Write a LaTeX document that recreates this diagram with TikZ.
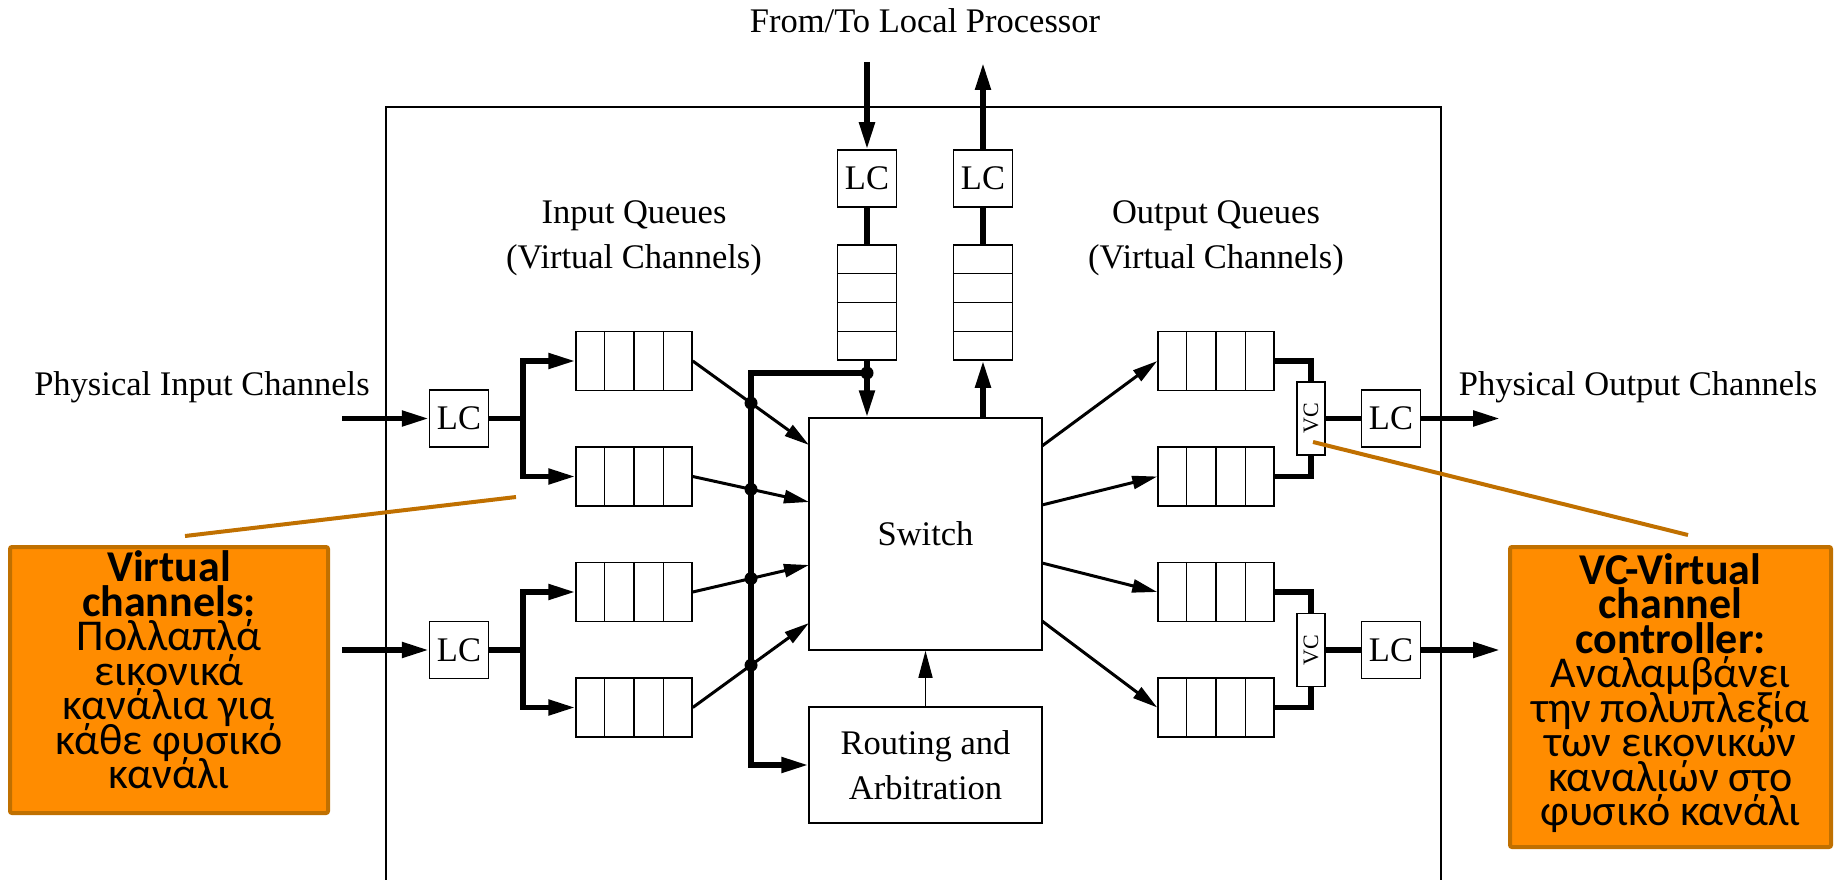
\documentclass[tikz,border=0pt]{standalone}
\usepackage{fontspec}
\setmainfont{Liberation Serif}
\newfontfamily\calfont{Carlito}
\usetikzlibrary{arrows.meta,calc}
\definecolor{calfill}{RGB}{255,140,0}
\definecolor{caledge}{RGB}{192,112,0}
\begin{document}
\begin{tikzpicture}[x=1pt,y=-1pt,
  every node/.style={font=\fontsize{34.5}{45}\selectfont},
  boxed/.style={draw,line width=1.5pt,inner sep=0pt},
  lcbox/.style={boxed,minimum width=59pt,minimum height=57pt},
  hq/.style={boxed,minimum width=116pt,minimum height=59pt},
  vq/.style={boxed,minimum width=59pt,minimum height=115pt},
  vcbox/.style={boxed,minimum width=28pt,minimum height=73pt,font=\fontsize{22}{22}\selectfont},
  heavy/.style={line width=5.2pt},
  medium/.style={line width=3pt},
  thinline/.style={line width=1.5pt},
  harr/.style={-{Triangle[length=27pt,width=15pt]}},
  marr/.style={-{Triangle[length=25pt,width=13pt]}},
  tarr/.style={-{Triangle[length=27pt,width=14pt]}},
  jdot/.style={circle,fill,inner sep=0pt,minimum size=13pt},
  calbox/.style={draw=caledge,fill=calfill,line width=4pt,inner sep=0pt,rounded corners=2pt},
  calltext/.style={font={\calfont\fontsize{44}{34.5}\selectfont\lineskiplimit=-1000pt\lineskip=0pt},align=center,inner sep=0pt},
  leader/.style={draw=caledge,line width=4pt}
]
\useasboundingbox (0,0) rectangle (1837,880);

% outer frame
\coordinate (fbl) at (386,895);
\coordinate (ftl) at (386,107);
\coordinate (ftr) at (1441,107);
\coordinate (fbr) at (1441,895);
\draw[thinline] (fbl) -- (ftl) -- (ftr) -- (fbr);

% texts
\node[anchor=base] (tproc) at (925,33) {From/To Local Processor};
\node[anchor=base] (tiq) at (634,223) {Input Queues};
\node[anchor=base] (tivc) at (634,268) {(Virtual Channels)};
\node[anchor=base] (toq) at (1216,223) {Output Queues};
\node[anchor=base] (tovc) at (1216,268) {(Virtual Channels)};
\node[anchor=base] (tpin) at (202,395) {Physical Input Channels};
\node[anchor=base] (tpout) at (1638,395) {Physical Output Channels};

% input side
\node[lcbox] (lci1) at (459,418.5) {LC};
\node[lcbox] (lci2) at (459,650) {LC};
\node[hq] (iq1) at (634,361) {};
\node[hq] (iq2) at (634,476.5) {};
\node[hq] (iq3) at (634,592) {};
\node[hq] (iq4) at (634,707.5) {};

% local processor side
\node[lcbox] (lcu) at (867,178.5) {LC};
\node[lcbox] (lco) at (983,178.5) {LC};
\node[vq] (lqin) at (867,302.5) {};
\node[vq] (lqout) at (983,302.5) {};

% switch and routing
\node[boxed,minimum width=233pt,minimum height=232pt] (sw) at (925.5,534) {Switch};
\node[boxed,minimum width=233pt,minimum height=116pt,align=center] (ra) at (925.5,765) {Routing and\\Arbitration};

% output side
\node[hq] (oq1) at (1216,361) {};
\node[hq] (oq2) at (1216,476.5) {};
\node[hq] (oq3) at (1216,592) {};
\node[hq] (oq4) at (1216,707.5) {};
\node[vcbox] (vc1) at (1311,418.5) {\rotatebox{90}{VC}};
\node[vcbox] (vc2) at (1311,650) {\rotatebox{90}{VC}};
\node[lcbox] (lcp1) at (1391,418.5) {LC};
\node[lcbox] (lcp2) at (1391,650) {LC};

% queue cell dividers
\foreach \q in {iq1,iq2,iq3,iq4,oq1,oq2,oq3,oq4}
  \foreach \f in {0.25,0.5,0.75}
    \draw[thinline] ($(\q.north west)!\f!(\q.north east)$) -- ($(\q.south west)!\f!(\q.south east)$);
\foreach \q in {lqin,lqout}
  \foreach \f in {0.25,0.5,0.75}
    \draw[thinline] ($(\q.north west)!\f!(\q.south west)$) -- ($(\q.north east)!\f!(\q.south east)$);

% physical inputs
\coordinate (pin1) at (342,418.5);
\coordinate (pin2) at (342,650);
\coordinate (br1) at (523,418.5);
\coordinate (br2) at (523,650);
\draw[heavy,harr] (pin1) -- (lci1.west);
\draw[heavy,harr] (pin2) -- (lci2.west);
\draw[heavy] (lci1.east) -- (br1);
\draw[heavy] (lci2.east) -- (br2);
\draw[heavy,harr] (br1) |- (iq1.west);
\draw[heavy,harr] (br1) |- (iq2.west);
\draw[heavy,harr] (br2) |- (iq3.west);
\draw[heavy,harr] (br2) |- (iq4.west);

% local processor connections
\coordinate (procin) at (867,62);
\coordinate (procout) at (983,63);
\node[jdot] (dtop) at (867,373) {};
\coordinate (bt) at (751,373);
\coordinate (bb) at (751,790);
\draw[heavy,harr] (procin) -- (lcu.north);
\draw[heavy] (lcu.south) -- (lqin.north);
\draw[heavy] (lqin.south) -- (dtop.center);
\draw[heavy,harr] (dtop.center) -- (sw.north -| dtop);
\draw[heavy,harr] (lco.north) -- (procout);
\draw[heavy] (lqout.north) -- (lco.south);
\draw[heavy,harr] (sw.north -| lqout) -- (lqout.south);

% bus to routing
\draw[heavy,harr] (dtop.center) -- (bt) |- (ra.west);

% queues to switch
\coordinate (si1) at (809,445);
\coordinate (si2) at (809,502);
\coordinate (si3) at (809,565);
\coordinate (si4) at (809,623);
\draw[medium,marr] (iq1.east) -- (si1);
\draw[medium,marr] (iq2.east) -- (si2);
\draw[medium,marr] (iq3.east) -- (si3);
\draw[medium,marr] (iq4.east) -- (si4);
\node[jdot] (d1) at (intersection of iq1.east--si1 and bt--bb) {};
\node[jdot] (d2) at (intersection of iq2.east--si2 and bt--bb) {};
\node[jdot] (d3) at (intersection of iq3.east--si3 and bt--bb) {};
\node[jdot] (d4) at (intersection of iq4.east--si4 and bt--bb) {};

% routing to switch
\draw[thinline,tarr] (ra.north) -- (sw.south);

% switch to output queues
\coordinate (so1) at (1042,446);
\coordinate (so2) at (1042,505);
\coordinate (so3) at (1042,563);
\coordinate (so4) at (1042,621);
\draw[medium,marr] (so1) -- (oq1.west);
\draw[medium,marr] (so2) -- (oq2.west);
\draw[medium,marr] (so3) -- (oq3.west);
\draw[medium,marr] (so4) -- (oq4.west);

% output queues to VC and LC
\draw[heavy] (oq1.east) -| (vc1.north);
\draw[heavy] (oq2.east) -| (vc1.south);
\draw[heavy] (oq3.east) -| (vc2.north);
\draw[heavy] (oq4.east) -| (vc2.south);
\draw[heavy] (vc1.east) -- (lcp1.west);
\draw[heavy] (vc2.east) -- (lcp2.west);
\coordinate (pout1) at (1500,418.5);
\coordinate (pout2) at (1500,650);
\draw[heavy,harr] (lcp1.east) -- (pout1);
\draw[heavy,harr] (lcp2.east) -- (pout2);

% callouts
\node[calbox,minimum width=318pt,minimum height=266pt] (cl) at (169,680) {};
\node[calltext] (clt) at (169,670) {\textbf{Virtual}\\\textbf{channels:}\\Πολλαπλά\\εικονικά\\κανάλια για\\κάθε φυσικό\\κανάλι};
\node[calbox,minimum width=321pt,minimum height=300pt] (cr) at (1670.5,697) {};
\node[calltext] (crt) at (1670.5,693) {\textbf{VC-Virtual}\\\textbf{channel}\\\textbf{controller:}\\Αναλαμβάνει\\την πολυπλεξία\\των εικονικών\\καναλιών στο\\φυσικό κανάλι};
\coordinate (lla) at (185,536);
\coordinate (llb) at (516,497);
\draw[leader] (lla) -- (llb);
\coordinate (rla) at (1313,442);
\coordinate (rlb) at (1688,535);
\draw[leader] (rla) -- (rlb);
\end{tikzpicture}
\end{document}
